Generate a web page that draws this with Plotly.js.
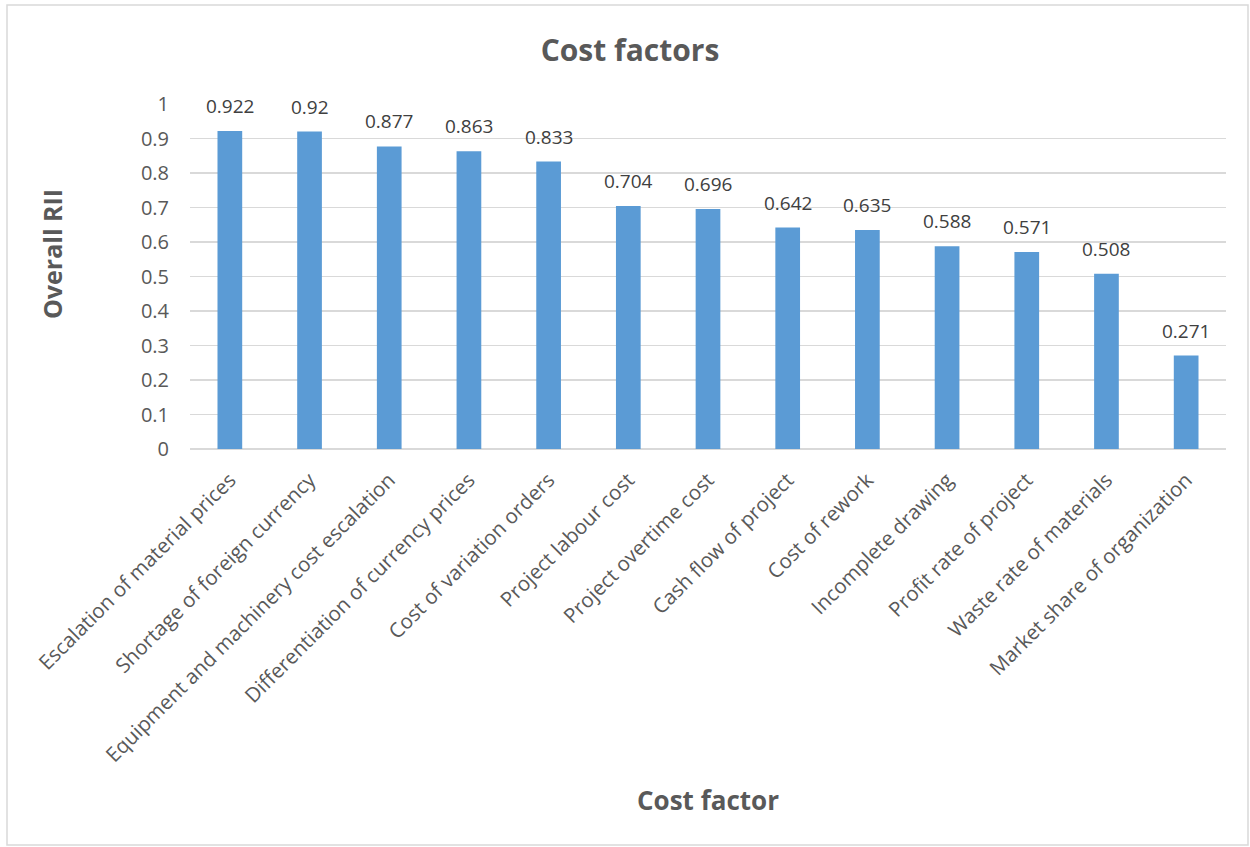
<!DOCTYPE html>
<html>
<head>
<meta charset="utf-8">
<script src="https://cdn.plot.ly/plotly-3.0.1.min.js"></script>
<style>
  html, body { margin: 0; padding: 0; background: #ffffff; }
  #chart { width: 1250px; height: 847px; }
</style>
</head>
<body>
<div id="chart"></div>
<script>
const categories = [
  "Escalation of material prices",
  "Shortage of foreign currency",
  "Equipment and machinery cost escalation",
  "Differentiation of currency prices",
  "Cost of variation orders",
  "Project labour cost",
  "Project overtime cost",
  "Cash flow of project",
  "Cost of rework",
  "Incomplete drawing",
  "Profit rate of project",
  "Waste rate of materials",
  "Market share of organization"
];
const rii = [0.922, 0.92, 0.877, 0.863, 0.833, 0.704, 0.696, 0.642, 0.635, 0.588, 0.571, 0.508, 0.271];
const labels = ["0.922", "0.92", "0.877", "0.863", "0.833", "0.704", "0.696", "0.642", "0.635", "0.588", "0.571", "0.508", "0.271"];
const yTicks = [0, 0.1, 0.2, 0.3, 0.4, 0.5, 0.6, 0.7, 0.8, 0.9, 1];
const yTickText = ["0", "0.1", "0.2", "0.3", "0.4", "0.5", "0.6", "0.7", "0.8", "0.9", "1"];

const FONT = "Open Sans, Liberation Sans, sans-serif";

const trace = {
  type: "bar",
  x: categories,
  y: rii,
  marker: { color: "#5B9BD5", line: { width: 0 } },
  hoverinfo: "x+y"
};

const L = 190, R = 24, T = 104, B = 398, W = 1250, H = 847;
const pw = W - L - R, ph = H - T - B;

const annotations = categories.map(function (c, i) {
  return {
    x: c, y: rii[i], xref: "x", yref: "y",
    text: labels[i], showarrow: false,
    yanchor: "bottom", yshift: 10,
    font: { family: FONT, size: 19, color: "#404040" }
  };
});

const layout = {
  width: W,
  height: H,
  margin: { l: L, r: R, t: T, b: B, pad: 0 },
  paper_bgcolor: "#ffffff",
  plot_bgcolor: "#ffffff",
  bargap: 0.69,
  showlegend: false,
  font: { family: FONT, color: "#595959" },
  title: {
    text: "<b>Cost factors</b>",
    font: { family: FONT, size: 30, color: "#595959" },
    x: 630 / W, xanchor: "center",
    y: 1 - 50 / H, yanchor: "middle"
  },
  xaxis: {
    type: "category",
    tickangle: -45,
    tickfont: { family: FONT, size: 20.5, color: "#595959" },
    ticks: "outside",
    ticklen: 10,
    tickcolor: "rgba(0,0,0,0)",
    showline: false,
    showgrid: false,
    automargin: false,
    title: {
      text: "<b>Cost factor</b>",
      font: { family: FONT, size: 26, color: "#595959" },
      standoff: 0
    }
  },
  yaxis: {
    range: [0, 1],
    tickvals: yTicks,
    ticktext: yTickText,
    tickfont: { family: FONT, size: 20, color: "#595959" },
    ticks: "outside",
    ticklen: 16,
    tickcolor: "rgba(0,0,0,0)",
    showgrid: true,
    gridcolor: "#d9d9d9",
    gridwidth: 1.5,
    zeroline: true,
    zerolinecolor: "#d9d9d9",
    zerolinewidth: 1.5,
    showline: false,
    automargin: false,
    title: {
      text: "<b>Overall RII</b>",
      font: { family: FONT, size: 25, color: "#595959" },
      standoff: 0
    }
  },
  annotations: annotations,
  shapes: [{
    type: "rect",
    xref: "paper", yref: "paper",
    x0: (7 - L) / pw, x1: (1248 - L) / pw,
    y0: (H - B - 845) / ph, y1: (H - B - 5) / ph,
    line: { color: "#d9d9d9", width: 1.5 },
    fillcolor: "rgba(0,0,0,0)",
    layer: "below"
  }]
};

Plotly.newPlot("chart", [trace], layout, { displayModeBar: false, staticPlot: true }).then(function (gd) {
  // shift axis titles to match reference placement
  var xt = gd.querySelector(".g-xtitle text");
  if (xt) {
    var y = parseFloat(xt.getAttribute("y"));
    var dy = 810 - y;
    xt.setAttribute("transform", "translate(0," + dy + ")");
    xt.setAttribute("x", 708);
  }
  var yt = gd.querySelector(".g-ytitle text");
  if (yt) {
    var nx = 62, ny = 254;
    yt.setAttribute("x", nx);
    yt.setAttribute("y", ny);
    yt.setAttribute("transform", "rotate(-90," + nx + "," + ny + ")");
  }
});
</script>
</body>
</html>
